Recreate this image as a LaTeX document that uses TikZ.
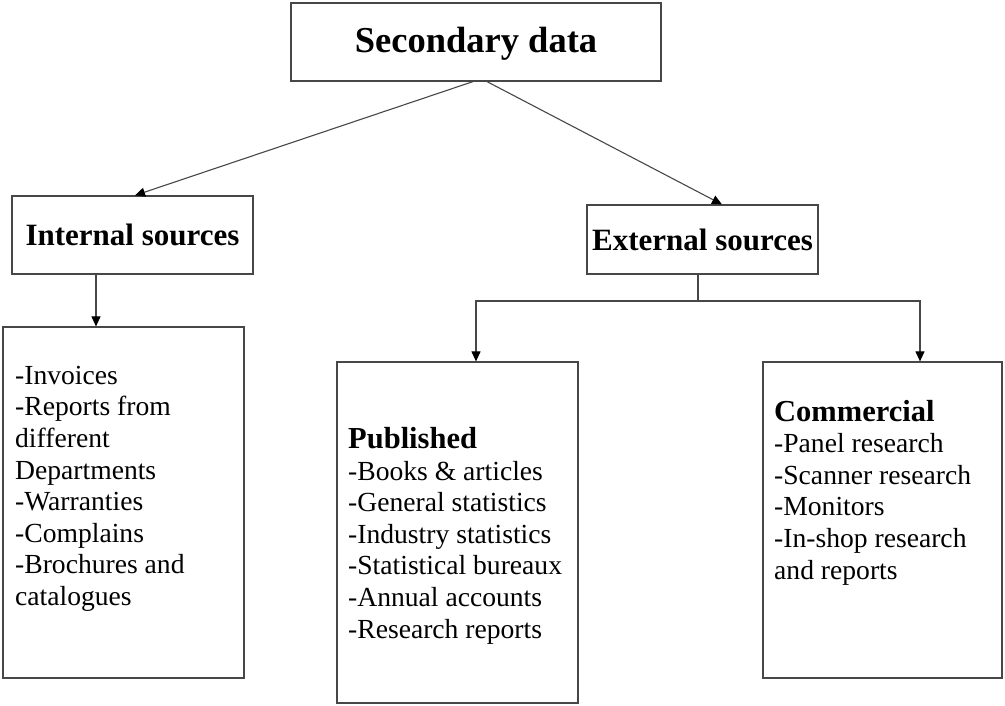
\documentclass[tikz,border=0pt]{standalone}
\usepackage{fontspec}
\setmainfont{Liberation Serif}
\usetikzlibrary{arrows.meta,calc}

\tikzset{
  box/.style={draw=black!72, line width=1.2pt, inner sep=0pt, fill=white},
  head/.style={font=\bfseries\fontsize{31}{32}\selectfont},
  listtext/.style={inner sep=0pt, align=left, anchor=base west,
                   font=\fontsize{27.6}{31.6}\selectfont},
  link/.style={draw=black!72, line width=1.1pt},
  arr/.style={link, -{Triangle[length=10pt,width=9pt,fill=black,color=black]}},
}

\begin{document}
\begin{tikzpicture}[x=1pt,y=-1pt]
  \useasboundingbox (0,0) rectangle (1005,706);

  % top level
  \node[box, minimum width=370, minimum height=78, text depth=4pt,
        font=\bfseries\fontsize{36.5}{38}\selectfont] (sec) at (476,42) {Secondary data};

  % second level
  \node[box, head, minimum width=241, minimum height=78] (int) at (132.5,235) {Internal sources};
  \node[box, head, minimum width=231, minimum height=69] (ext) at (702.5,239.5) {External sources};

  % third level boxes
  \node[box, minimum width=241, minimum height=351] (lst) at (123.5,502.5) {};
  \node[box, minimum width=241, minimum height=341] (pub) at (457.5,532.5) {};
  \node[box, minimum width=239, minimum height=316] (com) at (882.5,520) {};

  % box contents (anchored at the baseline of the last line)
  \node[listtext] (lsttxt) at (15,605.5) {-Invoices\\-Reports from\\different\\Departments\\-Warranties\\-Complains\\-Brochures and\\catalogues};
  \node[listtext] (pubtxt) at (348,638) {{\bfseries\fontsize{30.5}{31.6}\selectfont Published}\\-Books \& articles\\-General statistics\\-Industry statistics\\-Statistical bureaux\\-Annual accounts\\-Research reports};
  \node[listtext] (comtxt) at (774,579) {{\bfseries\fontsize{30.5}{31.6}\selectfont Commercial}\\-Panel research\\-Scanner research\\-Monitors\\-In-shop research\\and reports};

  % connectors
  \draw[arr] ($(sec.south)+(-3,0)$) -- ($(int.north)+(2.5,0)$);
  \draw[arr] ($(sec.south)+(11,0)$) -- ($(ext.north)+(19.5,0)$);

  \coordinate (ia) at (96,0);
  \draw[arr] (ia |- int.south) -- (ia |- lst.north);

  \coordinate (jn) at (698,301);
  \coordinate (pa) at (476,0);
  \coordinate (ca) at (920,0);
  \draw[link] (jn |- ext.south) -- (jn);
  \draw[arr] (jn) -| (pa |- pub.north);
  \draw[arr] (jn) -| (ca |- com.north);
\end{tikzpicture}
\end{document}
